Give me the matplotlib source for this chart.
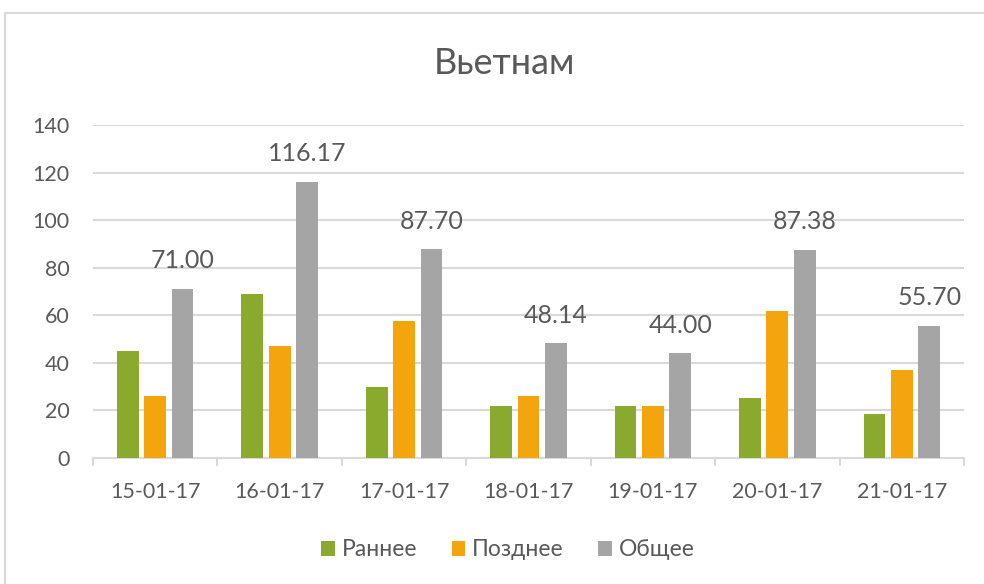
import matplotlib.pyplot as plt
import numpy as np
from matplotlib.patches import Rectangle

plt.rcParams['font.family'] = ['Lato', 'DejaVu Sans']

# данные
dates = ['15-01-17', '16-01-17', '17-01-17', '18-01-17', '19-01-17', '20-01-17', '21-01-17']
early = [45.0, 69.0, 30.0, 22.0, 22.0, 25.4, 18.5]
late = [26.0, 47.17, 57.7, 26.14, 22.0, 61.98, 37.2]
total = [71.00, 116.17, 87.70, 48.14, 44.00, 87.38, 55.70]

c_green = '#8AAA2D'
c_orange = '#F4A40C'
c_gray = '#A5A5A5'
txt = '#595959'

fig = plt.figure(figsize=(9.84, 5.84), dpi=100)
fig.patches.append(Rectangle((5 / 984, -0.05), 1.1, (584 - 13) / 584 + 0.05,
                             transform=fig.transFigure, fill=False,
                             edgecolor='#D9D9D9', linewidth=1.5))

ax = fig.add_axes([93 / 984, (584 - 458) / 584, (964 - 93) / 984, (458 - 125) / 584])

x = np.arange(len(dates))
w = 0.175
off = 0.22
ax.bar(x - off, early, w, color=c_green, label='Раннее', zorder=3)
ax.bar(x, late, w, color=c_orange, label='Позднее', zorder=3)
bars = ax.bar(x + off, total, w, color=c_gray, label='Общее', zorder=3)

for b, v in zip(bars, total):
    ax.annotate(f'{v:.2f}', (b.get_x() + b.get_width() / 2, v),
                xytext=(0, 12), textcoords='offset points',
                ha='center', va='bottom', fontsize=18, color=txt)

ax.set_xlim(-0.5, len(dates) - 0.5)
ax.set_ylim(0, 140)
ax.set_yticks(range(0, 141, 20))
ax.set_xticks(x)
ax.set_xticklabels(dates)
ax.set_xticks(np.arange(-0.5, len(dates), 1), minor=True)
ax.tick_params(axis='x', which='major', length=0, pad=17, labelsize=15.5, labelcolor=txt)
ax.tick_params(axis='x', which='minor', length=6, color='#D9D9D9', width=1.5)
ax.tick_params(axis='y', length=0, pad=17, labelsize=15.5, labelcolor=txt)
ax.grid(axis='y', color='#D9D9D9', linewidth=1.5, zorder=0)
for s in ['top', 'right', 'left']:
    ax.spines[s].set_visible(False)
ax.spines['bottom'].set_color('#D9D9D9')
ax.spines['bottom'].set_linewidth(1.5)

fig.text(504 / 984, (584 - 64) / 584, 'Вьетнам', ha='center', va='center',
         fontsize=26, color=txt)

fig.legend(loc='center', bbox_to_anchor=(508 / 984, (584 - 550) / 584), ncol=3,
           frameon=False, fontsize=16.5, labelcolor=txt, handlelength=0.6,
           handleheight=0.6, handletextpad=0.3, columnspacing=1.5)

fig.savefig('out.png', dpi=100)
